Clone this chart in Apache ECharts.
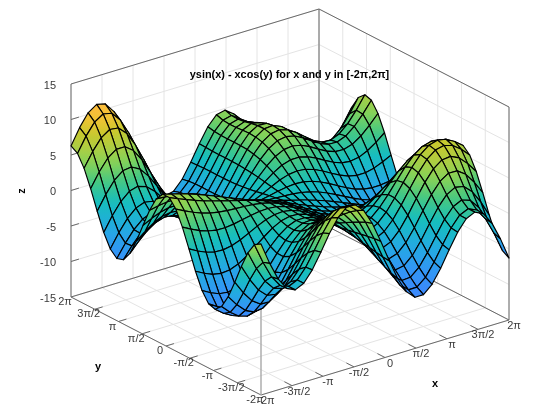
<!DOCTYPE html>
<html>
<head>
<meta charset="utf-8">
<style>html,body{margin:0;padding:0;background:#fff}#c{width:560px;height:420px}</style>
<script src="https://cdn.jsdelivr.net/npm/echarts@6/dist/echarts.min.js"></script>
</head>
<body>
<div id="c"></div>
<script>
const chartTitle = 'ysin(x) - xcos(y) for x and y in [-2π,2π]';
const xSamples = [-6.2832,-5.85,-5.4166,-4.9833,-4.55,-4.1166,-3.6833,-3.25,-2.8167,-2.3833,-1.95,-1.5167,-1.0833,-0.65,-0.2167,0.2167,0.65,1.0833,1.5167,1.95,2.3833,2.8167,3.25,3.6833,4.1166,4.55,4.9833,5.4166,5.85,6.2832];
const ySamples = [-6.2832,-5.85,-5.4166,-4.9833,-4.55,-4.1166,-3.6833,-3.25,-2.8167,-2.3833,-1.95,-1.5167,-1.0833,-0.65,-0.2167,0.2167,0.65,1.0833,1.5167,1.95,2.3833,2.8167,3.25,3.6833,4.1166,4.55,4.9833,5.4166,5.85,6.2832];
const surfaceZ = [
[6.28,5.70,4.07,1.68,-1.02,-3.53,-5.38,-6.25,-5.95,-4.56,-2.33,0.34,2.94,5.00,6.14,6.14,5.00,2.94,0.34,-2.33,-4.56,-5.95,-6.25,-5.38,-3.53,-1.02,1.68,4.07,5.70,6.28],
[3.21,2.85,1.51,-0.53,-2.86,-5.01,-6.56,-7.18,-6.73,-5.25,-2.98,-0.32,2.29,4.39,5.62,5.80,4.93,3.20,0.95,-1.35,-3.25,-4.36,-4.45,-3.47,-1.55,0.96,3.66,6.06,7.77,8.49],
[0.63,0.46,-0.62,-2.35,-4.34,-6.18,-7.45,-7.86,-7.28,-5.75,-3.49,-0.86,1.71,3.82,5.13,5.46,4.81,3.36,1.45,-0.52,-2.12,-2.99,-2.91,-1.83,0.10,2.59,5.25,7.64,9.38,10.21],
[-1.07,-1.11,-1.99,-3.47,-5.19,-6.76,-7.82,-8.09,-7.44,-5.91,-3.72,-1.19,1.29,3.34,4.66,5.08,4.59,3.38,1.73,0.04,-1.32,-2.01,-1.82,-0.72,1.17,3.58,6.13,8.45,10.16,11.04],
[-1.65,-1.64,-2.40,-3.70,-5.23,-6.62,-7.53,-7.73,-7.09,-5.66,-3.61,-1.25,1.06,2.98,4.23,4.66,4.26,3.20,1.74,0.24,-0.95,-1.53,-1.32,-0.26,1.51,3.75,6.13,8.29,9.90,10.75],
[-1.08,-1.11,-1.82,-3.02,-4.43,-5.72,-6.58,-6.78,-6.23,-4.96,-3.14,-1.03,1.03,2.74,3.84,4.20,3.82,2.83,1.48,0.09,-1.02,-1.57,-1.40,-0.48,1.10,3.10,5.23,7.15,8.58,9.32],
[0.44,0.33,-0.41,-1.58,-2.94,-4.19,-5.05,-5.34,-4.94,-3.90,-2.37,-0.58,1.17,2.60,3.49,3.71,3.27,2.28,0.98,-0.36,-1.45,-2.04,-1.99,-1.26,0.06,1.75,3.55,5.18,6.36,6.92],
[2.57,2.32,1.52,0.33,-1.02,-2.27,-3.18,-3.58,-3.38,-2.62,-1.41,0.01,1.41,2.52,3.15,3.20,2.66,1.64,0.34,-0.99,-2.10,-2.78,-2.88,-2.39,-1.38,-0.03,1.41,2.69,3.58,3.93],
[4.82,4.42,3.55,2.34,1.00,-0.27,-1.24,-1.76,-1.77,-1.28,-0.42,0.64,1.67,2.45,2.82,2.68,2.04,0.97,-0.33,-1.67,-2.81,-3.57,-3.84,-3.59,-2.90,-1.91,-0.84,0.09,0.69,0.81],
[6.70,6.19,5.27,4.06,2.74,1.49,0.49,-0.13,-0.32,-0.09,0.46,1.17,1.86,2.35,2.48,2.18,1.45,0.37,-0.91,-2.22,-3.37,-4.20,-4.60,-4.58,-4.17,-3.52,-2.79,-2.18,-1.86,-1.94],
[7.79,7.20,6.29,5.15,3.91,2.73,1.75,1.08,0.77,0.80,1.09,1.52,1.92,2.16,2.11,1.70,0.95,-0.09,-1.30,-2.53,-3.63,-4.47,-4.96,-5.09,-4.92,-4.54,-4.11,-3.77,-3.67,-3.89],
[7.79,7.22,6.39,5.38,4.30,3.26,2.38,1.74,1.38,1.28,1.39,1.60,1.79,1.86,1.70,1.27,0.56,-0.37,-1.43,-2.51,-3.48,-4.25,-4.75,-4.98,-4.96,-4.79,-4.57,-4.43,-4.47,-4.76],
[6.63,6.15,5.49,4.69,3.84,3.03,2.33,1.79,1.46,1.32,1.32,1.40,1.46,1.44,1.25,0.87,0.29,-0.45,-1.28,-2.12,-2.89,-3.51,-3.95,-4.18,-4.25,-4.19,-4.11,-4.08,-4.18,-4.47],
[4.45,4.13,3.70,3.19,2.65,2.13,1.67,1.32,1.09,0.97,0.94,0.95,0.96,0.91,0.77,0.50,0.12,-0.35,-0.88,-1.42,-1.91,-2.32,-2.61,-2.79,-2.86,-2.86,-2.84,-2.86,-2.95,-3.15],
[1.57,1.46,1.31,1.13,0.94,0.76,0.61,0.48,0.40,0.36,0.34,0.34,0.33,0.31,0.26,0.17,0.03,-0.13,-0.31,-0.50,-0.67,-0.81,-0.91,-0.98,-1.01,-1.01,-1.01,-1.02,-1.06,-1.13],
[-1.57,-1.46,-1.31,-1.13,-0.94,-0.76,-0.61,-0.48,-0.40,-0.36,-0.34,-0.34,-0.33,-0.31,-0.26,-0.17,-0.03,0.13,0.31,0.50,0.67,0.81,0.91,0.98,1.01,1.01,1.01,1.02,1.06,1.13],
[-4.45,-4.13,-3.70,-3.19,-2.65,-2.13,-1.67,-1.32,-1.09,-0.97,-0.94,-0.95,-0.96,-0.91,-0.77,-0.50,-0.12,0.35,0.88,1.42,1.91,2.32,2.61,2.79,2.86,2.86,2.84,2.86,2.95,3.15],
[-6.63,-6.15,-5.49,-4.69,-3.84,-3.03,-2.33,-1.79,-1.46,-1.32,-1.32,-1.40,-1.46,-1.44,-1.25,-0.87,-0.29,0.45,1.28,2.12,2.89,3.51,3.95,4.18,4.25,4.19,4.11,4.08,4.18,4.47],
[-7.79,-7.22,-6.39,-5.38,-4.30,-3.26,-2.38,-1.74,-1.38,-1.28,-1.39,-1.60,-1.79,-1.86,-1.70,-1.27,-0.56,0.37,1.43,2.51,3.48,4.25,4.75,4.98,4.96,4.79,4.57,4.43,4.47,4.76],
[-7.79,-7.20,-6.29,-5.15,-3.91,-2.73,-1.75,-1.08,-0.77,-0.80,-1.09,-1.52,-1.92,-2.16,-2.11,-1.70,-0.95,0.09,1.30,2.53,3.63,4.47,4.96,5.09,4.92,4.54,4.11,3.77,3.67,3.89],
[-6.70,-6.19,-5.27,-4.06,-2.74,-1.49,-0.49,0.13,0.32,0.09,-0.46,-1.17,-1.86,-2.35,-2.48,-2.18,-1.45,-0.37,0.91,2.22,3.37,4.20,4.60,4.58,4.17,3.52,2.79,2.18,1.86,1.94],
[-4.82,-4.42,-3.55,-2.34,-1.00,0.27,1.24,1.76,1.77,1.28,0.42,-0.64,-1.67,-2.45,-2.82,-2.68,-2.04,-0.97,0.33,1.67,2.81,3.57,3.84,3.59,2.90,1.91,0.84,-0.09,-0.69,-0.81],
[-2.57,-2.32,-1.52,-0.33,1.02,2.27,3.18,3.58,3.38,2.62,1.41,-0.01,-1.41,-2.52,-3.15,-3.20,-2.66,-1.64,-0.34,0.99,2.10,2.78,2.88,2.39,1.38,0.03,-1.41,-2.69,-3.58,-3.93],
[-0.44,-0.33,0.41,1.58,2.94,4.19,5.05,5.34,4.94,3.90,2.37,0.58,-1.17,-2.60,-3.49,-3.71,-3.27,-2.28,-0.98,0.36,1.45,2.04,1.99,1.26,-0.06,-1.75,-3.55,-5.18,-6.36,-6.92],
[1.08,1.11,1.82,3.02,4.43,5.72,6.58,6.78,6.23,4.96,3.14,1.03,-1.03,-2.74,-3.84,-4.20,-3.82,-2.83,-1.48,-0.09,1.02,1.57,1.40,0.48,-1.10,-3.10,-5.23,-7.15,-8.58,-9.32],
[1.65,1.64,2.40,3.70,5.23,6.62,7.53,7.73,7.09,5.66,3.61,1.25,-1.06,-2.98,-4.23,-4.66,-4.26,-3.20,-1.74,-0.24,0.95,1.53,1.32,0.26,-1.51,-3.75,-6.13,-8.29,-9.90,-10.75],
[1.07,1.11,1.99,3.47,5.19,6.76,7.82,8.09,7.44,5.91,3.72,1.19,-1.29,-3.34,-4.66,-5.08,-4.59,-3.38,-1.73,-0.04,1.32,2.01,1.82,0.72,-1.17,-3.58,-6.13,-8.45,-10.16,-11.04],
[-0.63,-0.46,0.62,2.35,4.34,6.18,7.45,7.86,7.28,5.75,3.49,0.86,-1.71,-3.82,-5.13,-5.46,-4.81,-3.36,-1.45,0.52,2.12,2.99,2.91,1.83,-0.10,-2.59,-5.25,-7.64,-9.38,-10.21],
[-3.21,-2.85,-1.51,0.53,2.86,5.01,6.56,7.18,6.73,5.25,2.98,0.32,-2.29,-4.39,-5.62,-5.80,-4.93,-3.20,-0.95,1.35,3.25,4.36,4.45,3.47,1.55,-0.96,-3.66,-6.06,-7.77,-8.49],
[-6.28,-5.70,-4.07,-1.68,1.02,3.53,5.38,6.25,5.95,4.56,2.33,-0.34,-2.94,-5.00,-6.14,-6.14,-5.00,-2.94,-0.34,2.33,4.56,5.95,6.25,5.38,3.53,1.02,-1.68,-4.07,-5.70,-6.28]
];
const xyTickValues = [-6.2832,-4.7124,-3.1416,-1.5708,0,1.5708,3.1416,4.7124,6.2832];
const xyTickLabels = ['-2π','-3π/2','-π','-π/2','0','π/2','π','3π/2','2π'];
const zTickValues = [-15,-10,-5,0,5,10,15];
const zTickLabels = ['-15','-10','-5','0','5','10','15'];

const xMin = -6.2832, xMax = 6.2832, yMin = -6.2832, yMax = 6.2832, zMin = -15, zMax = 15;
// Palette: height -> colour
const palette = [[-8,[60,135,252]],[-5.5,[50,150,245]],[-3,[35,170,225]],[0,[22,190,190]],[2.5,[70,200,130]],[4.5,[130,210,90]],[6.5,[175,205,65]],[8,[200,200,45]],[9.5,[238,195,52]],[11,[255,188,60]]];
function colorOf(z){
  if(z<=palette[0][0]) return 'rgb('+palette[0][1].join(',')+')';
  for(let k=1;k<palette.length;k++){
    if(z<=palette[k][0]){
      const a=palette[k-1],b=palette[k],t=(z-a[0])/(b[0]-a[0]);
      return 'rgb('+a[1].map((c,n)=>Math.round(c+(b[1][n]-c)*t)).join(',')+')';
    }
  }
  return 'rgb('+palette[palette.length-1][1].join(',')+')';
}
// Shades one cell along the direction its four heights fall off on the page
function cellFill(pts,zs){
  const mz=(zs[0]+zs[1]+zs[2]+zs[3])/4;
  const cx=(pts[0][0]+pts[1][0]+pts[2][0]+pts[3][0])/4, cy=(pts[0][1]+pts[1][1]+pts[2][1]+pts[3][1])/4;
  let sxx=0,sxy=0,syy=0,sxz=0,syz=0;
  pts.forEach((p,n)=>{
    const dx=p[0]-cx, dy=p[1]-cy, dz=zs[n]-mz;
    sxx+=dx*dx; sxy+=dx*dy; syy+=dy*dy; sxz+=dx*dz; syz+=dy*dz;
  });
  const det=sxx*syy-sxy*sxy;
  if(Math.abs(det)<40) return colorOf(mz);
  let a=(sxz*syy-syz*sxy)/det, b=(syz*sxx-sxz*sxy)/det;
  const g2=a*a+b*b;
  if(g2<1e-6) return colorOf(mz);
  const reach=Math.max(...zs.map(z=>Math.abs(z-mz)));
  const lo=mz-reach, hi=mz+reach;
  const colorStops=[0,0.25,0.5,0.75,1].map(t=>({offset:t,color:colorOf(lo+(hi-lo)*t)}));
  return {type:'linear',global:true,
    x:cx-a*reach/g2,y:cy-b*reach/g2,x2:cx+a*reach/g2,y2:cy+b*reach/g2,colorStops};
}
// Oblique view of the data box onto the page scale
function project(x,y,z){
  const u=(x-xMin)/(xMax-xMin), v=(y-yMin)/(yMax-yMin), w=(z-zMin)/(zMax-zMin);
  return [261+248*u-190*v, 395-75*u-98*v-213*w];
}
const GRID='#e4e4e4', FRAME='#6a6a6a', TEXT='#3a3a3a';
const segs=[];
xyTickValues.forEach(t=>{
  segs.push([t,yMin,zMin,t,yMax,zMin,GRID,1]);
  segs.push([t,yMax,zMin,t,yMax,zMax,GRID,1]);
  segs.push([xMin,t,zMin,xMax,t,zMin,GRID,1]);
  segs.push([xMax,t,zMin,xMax,t,zMax,GRID,1]);
});
zTickValues.forEach(t=>{
  segs.push([xMin,yMax,t,xMax,yMax,t,GRID,1]);
  segs.push([xMax,yMax,t,xMax,yMin,t,GRID,1]);
});
segs.push([xMin,yMax,zMin,xMin,yMax,zMax,FRAME,1]);
segs.push([xMin,yMax,zMax,xMax,yMax,zMax,FRAME,1]);
segs.push([xMax,yMax,zMax,xMax,yMin,zMax,FRAME,1]);
segs.push([xMax,yMin,zMax,xMax,yMin,zMin,FRAME,1]);
segs.push([xMax,yMax,zMax,xMax,yMax,zMin,FRAME,1]);
segs.push([xMin,yMax,zMin,xMax,yMax,zMin,FRAME,1]);
segs.push([xMax,yMax,zMin,xMax,yMin,zMin,FRAME,1]);
segs.push([xMin,yMin,zMin,xMin,yMax,zMin,FRAME,1]);
segs.push([xMin,yMin,zMin,xMax,yMin,zMin,FRAME,1]);
segs.push([xMin,yMin,zMin,xMin,yMin,surfaceZ[0][0],'#a8a8a8',1.4]);
const tickX=(xMax-xMin)*0.032, tickY=(yMax-yMin)*0.04;
xyTickValues.slice(1,-1).forEach(t=>{
  segs.push([t,yMin,zMin,t,yMin+tickY,zMin,FRAME,1]);
  segs.push([xMin,t,zMin,xMin+tickX,t,zMin,FRAME,1]);
});
zTickValues.slice(1,-1).forEach(t=>{
  segs.push([xMin,yMax,t,xMin+tickX,yMax,t,FRAME,1]);
});
const quads=[];
for(let i=xSamples.length-2;i>=0;i--){
  for(let j=ySamples.length-2;j>=0;j--) quads.push([i,j]);
}
const labels=[];
xyTickValues.forEach((t,k)=>{
  const p=project(t,yMin,zMin);
  labels.push([p[0]+5,p[1]+6,xyTickLabels[k],0]);
  const q=project(xMin,t,zMin);
  labels.push([q[0]-6,q[1]+5,xyTickLabels[k],0]);
});
const mkAxis={show:false};
const chart=echarts.init(document.getElementById('c'),null,{renderer:'canvas'});
chart.setOption({
  animation:false,
  backgroundColor:'#fff',
  title:{text:chartTitle,left:284.5,top:64,textAlign:'center',textVerticalAlign:'top',textStyle:{fontFamily:'Liberation Sans',fontSize:10.9,fontWeight:'bold',color:'#000'}},
  grid:{left:0,right:0,top:0,bottom:0},
  xAxis:{type:'value',min:0,max:560,...mkAxis},
  yAxis:{type:'value',min:0,max:420,inverse:true,...mkAxis},
  series:[
    {type:'custom',coordinateSystem:'cartesian2d',silent:true,clip:false,progressive:0,z:1,data:segs.map((s,n)=>[n]),
     renderItem:(params,api)=>{
       const s=segs[params.dataIndex];
       const a=api.coord(project(s[0],s[1],s[2])), b=api.coord(project(s[3],s[4],s[5]));
       return {type:'line',shape:{x1:a[0],y1:a[1],x2:b[0],y2:b[1]},style:{stroke:s[6],lineWidth:s[7],fill:null}};
     }},
    {type:'custom',coordinateSystem:'cartesian2d',silent:true,clip:false,progressive:0,z:2,data:quads,
     renderItem:(params,api)=>{
       const i=api.value(0), j=api.value(1);
       const corners=[[i,j],[i+1,j],[i+1,j+1],[i,j+1]];
       const zs=corners.map(c=>surfaceZ[c[0]][c[1]]);
       const pts=corners.map((c,n)=>api.coord(project(xSamples[c[0]],ySamples[c[1]],zs[n])));
       return {type:'polygon',shape:{points:pts},style:{fill:cellFill(pts,zs),stroke:'#000',lineWidth:1.15,lineJoin:'round'}};
     }},
    {type:'custom',coordinateSystem:'cartesian2d',silent:true,clip:false,progressive:0,z:3,data:labels.map(l=>[l[0],l[1]]),
     renderItem:(params,api)=>{
       const l=labels[params.dataIndex], c=api.coord([api.value(0),api.value(1)]);
       return {type:'text',x:c[0],y:c[1],style:{text:l[2],fill:TEXT,font:'11px "Liberation Sans"',textAlign:'center',textVerticalAlign:'middle'}};
     }},
    {type:'custom',coordinateSystem:'cartesian2d',silent:true,clip:false,progressive:0,z:3,data:zTickValues.map((t,k)=>{const p=project(xMin,yMax,t);return [p[0]-15,p[1]+1.5];}),
     renderItem:(params,api)=>{
       const c=api.coord([api.value(0),api.value(1)]);
       return {type:'text',x:c[0],y:c[1],style:{text:zTickLabels[params.dataIndex],fill:TEXT,font:'11px "Liberation Sans"',textAlign:'right',textVerticalAlign:'middle'}};
     }},
    {type:'custom',coordinateSystem:'cartesian2d',silent:true,clip:false,progressive:0,z:3,data:[[435,384,0],[98,367,0],[22,191,1]],
     renderItem:(params,api)=>{
       const c=api.coord([api.value(0),api.value(1)]);
       return {type:'text',x:c[0],y:c[1],rotation:api.value(2)?Math.PI/2:0,style:{text:['x','y','z'][params.dataIndex],fill:'#000',font:'bold 11px "Liberation Sans"',textAlign:'center',textVerticalAlign:'middle'}};
     }}
  ]
});
</script>
</body>
</html>
